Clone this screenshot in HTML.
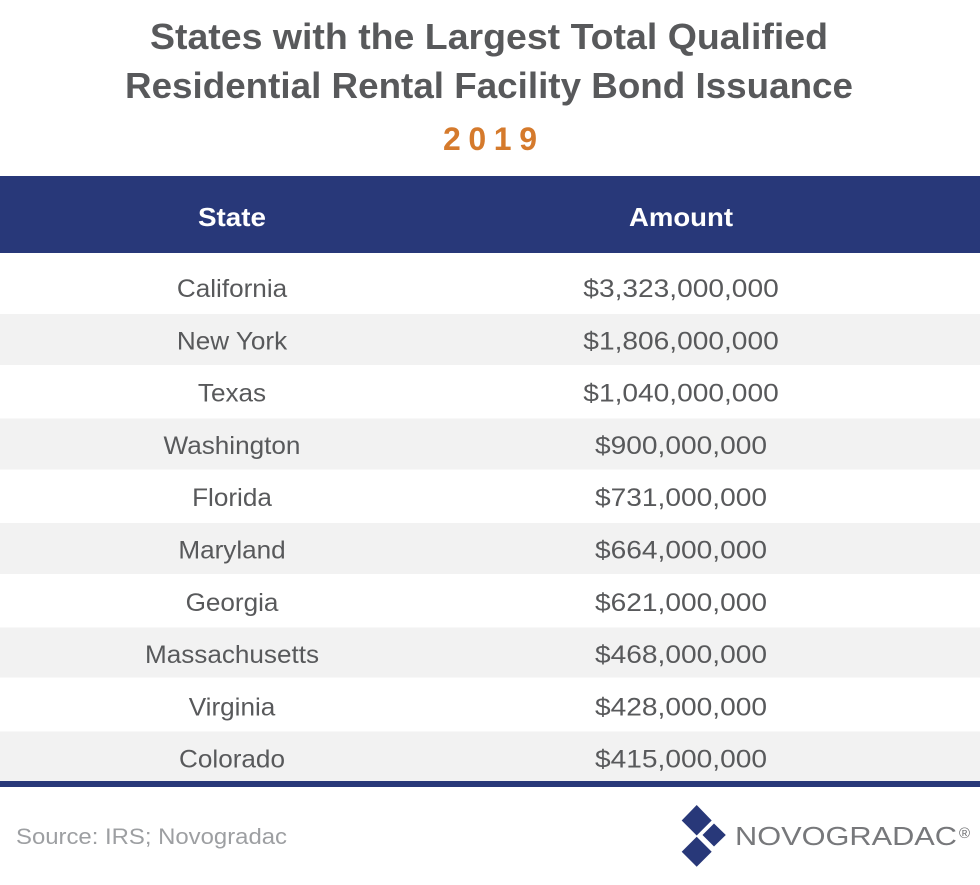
<!DOCTYPE html>
<html>
<head>
<meta charset="utf-8">
<style>
html,body{margin:0;padding:0;background:#fff;}
svg{display:block;font-family:"Liberation Sans",Arial,sans-serif;}
</style>
</head>
<body>
<svg width="980" height="885" viewBox="0 0 980 885" xmlns="http://www.w3.org/2000/svg">
<rect x="0" y="0" width="980" height="885" fill="#ffffff"/>

<!-- Title -->
<text x="150" y="49" font-size="36" font-weight="bold" fill="#58595b" textLength="678" lengthAdjust="spacingAndGlyphs">States with the Largest Total Qualified</text>
<text x="125" y="98" font-size="36" font-weight="bold" fill="#58595b" textLength="728" lengthAdjust="spacingAndGlyphs">Residential Rental Facility Bond Issuance</text>
<text x="443" y="150" font-size="32" font-weight="bold" fill="#d57a2c" textLength="94" lengthAdjust="spacing">2019</text>

<!-- Header -->
<rect x="0" y="176" width="980" height="77" fill="#283879"/>
<text x="198" y="226" font-size="26" font-weight="bold" fill="#ffffff" textLength="68" lengthAdjust="spacingAndGlyphs">State</text>
<text x="629" y="226" font-size="26" font-weight="bold" fill="#ffffff" textLength="104" lengthAdjust="spacingAndGlyphs">Amount</text>

<!-- Striped rows -->
<rect x="0" y="314" width="980" height="51" fill="#f2f2f2"/>
<rect x="0" y="418.5" width="980" height="51" fill="#f2f2f2"/>
<rect x="0" y="523" width="980" height="51" fill="#f2f2f2"/>
<rect x="0" y="627.5" width="980" height="50" fill="#f2f2f2"/>
<rect x="0" y="731.5" width="980" height="49.5" fill="#f2f2f2"/>
<rect x="0" y="781" width="980" height="6" fill="#283879"/>

<!-- Columns -->
<g font-size="25" fill="#58595b" text-anchor="middle">
  <g transform="translate(232,0) scale(1.045,1)">
    <text x="0" y="297">California</text>
    <text x="0" y="349.3">New York</text>
    <text x="0" y="401.6">Texas</text>
    <text x="0" y="453.9">Washington</text>
    <text x="0" y="506.2">Florida</text>
    <text x="0" y="558.5">Maryland</text>
    <text x="0" y="610.8">Georgia</text>
    <text x="0" y="663.1">Massachusetts</text>
    <text x="0" y="715.4">Virginia</text>
    <text x="0" y="767.7">Colorado</text>
  </g>
  <g transform="translate(681,0) scale(1.125,1)">
    <text x="0" y="297">$3,323,000,000</text>
    <text x="0" y="349.3">$1,806,000,000</text>
    <text x="0" y="401.6">$1,040,000,000</text>
    <text x="0" y="453.9">$900,000,000</text>
    <text x="0" y="506.2">$731,000,000</text>
    <text x="0" y="558.5">$664,000,000</text>
    <text x="0" y="610.8">$621,000,000</text>
    <text x="0" y="663.1">$468,000,000</text>
    <text x="0" y="715.4">$428,000,000</text>
    <text x="0" y="767.7">$415,000,000</text>
  </g>
</g>

<!-- Source -->
<text x="16" y="844" font-size="22" fill="#9d9fa2" textLength="271" lengthAdjust="spacingAndGlyphs">Source: IRS; Novogradac</text>

<!-- Logo -->
<g fill="#283879">
  <polygon points="681.7,820.5 696.7,805 711.7,820.5 696.7,835.5"/>
  <polygon points="702.5,835 714,823.5 725.8,835 714,846.5"/>
  <polygon points="681.7,851.7 696.7,836.8 711.7,851.7 696.7,866.7"/>
</g>
<text x="735" y="845" font-size="26" fill="#77787b" textLength="222" lengthAdjust="spacingAndGlyphs">NOVOGRADAC</text>
<text x="959" y="838" font-size="15" fill="#6d6e71">®</text>
</svg>
</body>
</html>
